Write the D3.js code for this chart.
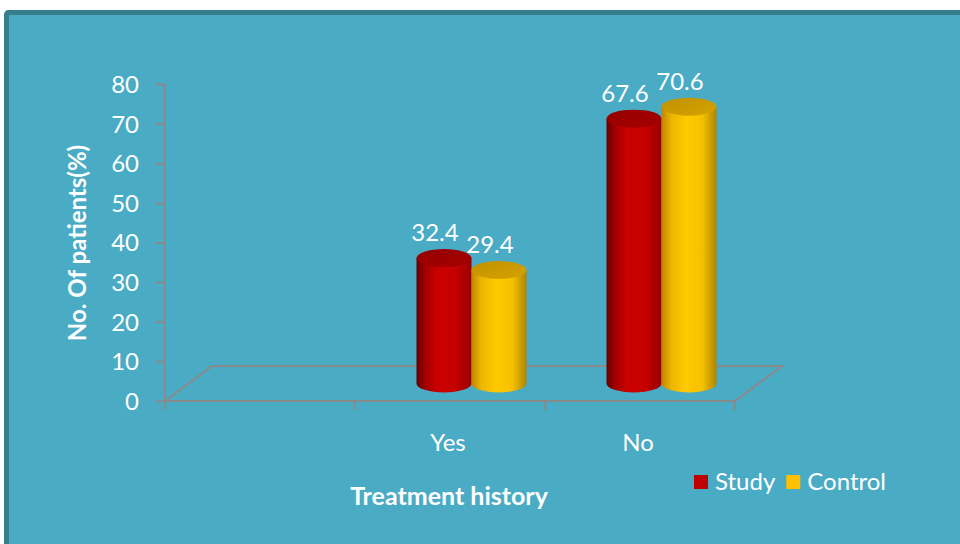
<!DOCTYPE html>
<html>
<head>
<meta charset="utf-8">
<script src="https://cdn.jsdelivr.net/npm/d3@7/dist/d3.min.js"></script>
<style>
  html, body { margin: 0; padding: 0; background: #ffffff; }
  svg { display: block; }
  text { font-family: Lato, "Open Sans", sans-serif; fill: #ffffff; }
</style>
</head>
<body>
<svg id="chart" width="960" height="544"></svg>
<script>
// Treatment history, % of patients per group
const categories = ["", "Yes", "No"];
const seriesNames = ["Study", "Control"];
const studyValues = [null, 32.4, 67.6];
const controlValues = [null, 29.4, 70.6];
const yTickValues = [0, 10, 20, 30, 40, 50, 60, 70, 80];
const yTitle = "No. Of patients(%)";
const xTitle = "Treatment history";

const svg = d3.select("#chart");

// panel background with dark frame
svg.append("rect")
  .attr("x", 6.5).attr("y", 12.5)
  .attr("width", 1000).attr("height", 600)
  .attr("rx", 2)
  .attr("fill", "#4aabc5")
  .attr("stroke", "#367e8c")
  .attr("stroke-width", 5);

const x = d3.scaleBand().domain(categories).range([165, 735]);
const y = d3.scaleLinear().domain([0, 80]).range([401, 84]);
const depthX = 47, depthY = 35;
const axisColor = "#8a8a8a";

// gradients for the cylinders
const defs = svg.append("defs");
const palettes = {
  Study: { stops: [[0, "#640000"], [0.15, "#a00000"], [0.38, "#cb0000"], [0.7, "#c60000"], [1, "#980000"]], top: "#a60000", legend: "#c00000" },
  Control: { stops: [[0, "#bb8700"], [0.18, "#eeb600"], [0.45, "#ffca00"], [0.75, "#f5c000"], [1, "#ad8400"]], top: "#d6a200", legend: "#ffc000" }
};
Object.entries(palettes).forEach(([name, p]) => {
  const g = defs.append("linearGradient").attr("id", "grad-" + name)
    .attr("x1", "0%").attr("x2", "100%").attr("y1", "0%").attr("y2", "0%");
  p.stops.forEach(s => g.append("stop").attr("offset", s[0]).attr("stop-color", s[1]));
  const t = defs.append("linearGradient").attr("id", "top-" + name)
    .attr("x1", "0%").attr("x2", "100%").attr("y1", "0%").attr("y2", "100%");
  t.append("stop").attr("offset", 0).attr("stop-color", d3.color(p.top).darker(0.3));
  t.append("stop").attr("offset", 1).attr("stop-color", p.top);
});

// floor of the 3D plot
const x0 = x.range()[0], x1 = x.range()[1], yb = y(0);
svg.append("path")
  .attr("d", `M${x0},${yb} L${x0 + depthX},${yb - depthY} L${x1 + depthX},${yb - depthY} L${x1},${yb}`)
  .attr("fill", "none").attr("stroke", axisColor).attr("stroke-width", 2);

// y axis
const yAxis = d3.axisLeft(y).tickValues(yTickValues).tickSize(9).tickPadding(17).tickSizeOuter(0);
const gy = svg.append("g").attr("transform", `translate(${x0},0)`).call(yAxis);
gy.select(".domain").remove();
gy.selectAll(".tick line").attr("stroke", axisColor).attr("stroke-width", 2);
gy.selectAll(".tick text").attr("fill", "#ffffff").style("font-size", "24px")
  .style("font-family", "Lato, sans-serif").attr("dy", "0.35em");
svg.append("line").attr("x1", x0).attr("x2", x0).attr("y1", y(80)).attr("y2", yb + 8)
  .attr("stroke", axisColor).attr("stroke-width", 2);

// x axis front edge and boundary ticks
svg.append("line").attr("x1", x0).attr("x2", x1).attr("y1", yb).attr("y2", yb)
  .attr("stroke", axisColor).attr("stroke-width", 2);
const bounds = categories.map(c => x(c)).concat([x1]);
svg.selectAll(".xtick").data(bounds).join("line").attr("class", "xtick")
  .attr("x1", d => d).attr("x2", d => d).attr("y1", yb).attr("y2", yb + 9)
  .attr("stroke", axisColor).attr("stroke-width", 2);

svg.selectAll(".xlabel").data(categories).join("text").attr("class", "xlabel")
  .attr("x", d => x(d) + x.bandwidth() / 2 - 2)
  .attr("y", 451)
  .attr("text-anchor", "middle")
  .style("font-size", "24px")
  .text(d => d);

// cylinders
const barW = 55, ry = 9;
const inner = d3.scaleBand().domain(seriesNames).range([0, barW * 2]);
const series = [
  { name: "Study", values: studyValues },
  { name: "Control", values: controlValues }
];
const baseY = yb - depthY / 2;
series.forEach(s => {
  const g = svg.append("g");
  const data = categories.map((c, i) => ({ c, v: s.values[i] })).filter(d => d.v != null);
  data.forEach(d => {
    const left = x(d.c) + x.bandwidth() / 2 + depthX / 2 - barW + inner(s.name) - 2;
    const rx = barW / 2, cx = left + rx;
    const top = y(d.v) - depthY / 2 + 3;
    g.append("path")
      .attr("d", `M${left},${top} L${left},${baseY} A${rx},${ry} 0 0 0 ${left + barW},${baseY} L${left + barW},${top} Z`)
      .attr("fill", `url(#grad-${s.name})`);
    g.append("ellipse").attr("cx", cx).attr("cy", top).attr("rx", rx).attr("ry", ry)
      .attr("fill", `url(#top-${s.name})`);
    g.append("text")
      .attr("x", cx - 9).attr("y", top - ry - 8)
      .attr("text-anchor", "middle")
      .style("font-size", "24px")
      .text(d3.format(".1f")(d.v));
  });
});

// axis titles
svg.append("text")
  .attr("transform", `translate(86,243) rotate(-90)`)
  .attr("text-anchor", "middle")
  .style("font-size", "24px").style("font-weight", "bold")
  .text(yTitle);
svg.append("text")
  .attr("x", 449).attr("y", 505)
  .attr("text-anchor", "middle")
  .style("font-size", "25px").style("font-weight", "bold")
  .text(xTitle);

// legend
const legend = svg.append("g").attr("transform", "translate(694,475)");
let lx = 0;
seriesNames.forEach(name => {
  const item = legend.append("g").attr("transform", `translate(${lx},0)`);
  item.append("rect").attr("width", 14).attr("height", 14).attr("fill", palettes[name].legend);
  const t = item.append("text").attr("x", 21).attr("y", 15).style("font-size", "24px").text(name);
  lx += 21 + t.node().getComputedTextLength() + 11;
});
</script>
</body>
</html>
